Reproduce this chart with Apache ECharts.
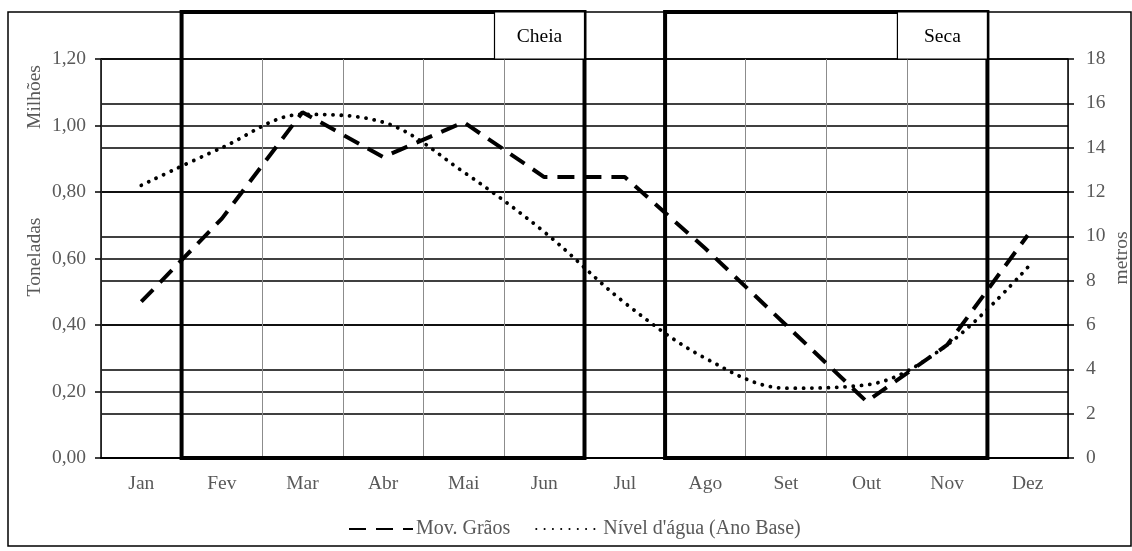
<!DOCTYPE html>
<html><head><meta charset="utf-8">
<script src="https://cdn.jsdelivr.net/npm/echarts@6/dist/echarts.min.js"></script>
<style>html,body{margin:0;padding:0;background:#fff}#c{width:1132px;height:551px}</style>
</head><body><div id="c"></div>
<script>
// ---- data ----
const months = ['Jan','Fev','Mar','Abr','Mai','Jun','Jul','Ago','Set','Out','Nov','Dez'];
const movGraos = [0.47, 0.72, 1.04, 0.905, 1.01, 0.845, 0.845, 0.63, 0.40, 0.17, 0.34, 0.67];
const nivelAgua = [12.3, 14.0, 15.5, 15.15, 12.9, 10.2, 7.0, 4.5, 3.15, 3.3, 5.1, 8.6];
const seriesNames = ['Mov. Grãos', "Nível d'água (Ano Base)"];
const seasons = [
  {name: 'Cheia', from: 'Fev', to: 'Jun'},
  {name: 'Seca', from: 'Ago', to: 'Nov'}
];
const leftAxisNames = ['Milhões', 'Toneladas'];
const rightAxisName = 'metros';

const FONT = 'Liberation Serif';
const GREY = '#595959';
const FS = 19.5;

const chart = echarts.init(document.getElementById('c'), null, {renderer: 'canvas'});
const option = {
  backgroundColor: '#fff',
  animation: false,
  grid: {left: 101, right: 64, top: 59, bottom: 93, containLabel: false},
  legend: {
    top: 514, left: 343, itemGap: 25, itemWidth: 64, itemHeight: 10,
    textStyle: {fontFamily: FONT, fontSize: 20, color: GREY, padding: [0, 0, 0, -2]},
    itemStyle: {opacity: 0},
    data: seriesNames
  },
  xAxis: {
    type: 'category', data: months, boundaryGap: true,
    axisLine: {show: true, lineStyle: {color: '#000', width: 2}},
    axisTick: {show: false},
    axisLabel: {fontFamily: FONT, fontSize: FS, color: GREY, margin: 16},
    splitLine: {show: true, lineStyle: {color: '#8c8c8c', width: 1}}
  },
  yAxis: [
    {
      type: 'value', min: 0, max: 1.2, interval: 0.2, position: 'left',
      axisLine: {show: true, lineStyle: {color: '#000', width: 1.5}},
      axisTick: {show: true, length: 6, lineStyle: {color: '#000', width: 1.5}},
      axisLabel: {fontFamily: FONT, fontSize: FS, color: GREY, margin: 15,
        formatter: v => v.toFixed(2).replace('.', ',')},
      splitLine: {show: true, lineStyle: {color: '#000', width: 1.5}}
    },
    {
      type: 'value', min: 0, max: 18, interval: 2, position: 'right',
      axisLine: {show: true, lineStyle: {color: '#000', width: 1.5}},
      axisTick: {show: true, length: 6, lineStyle: {color: '#000', width: 1.5}},
      axisLabel: {fontFamily: FONT, fontSize: FS, color: GREY, margin: 18},
      splitLine: {show: true, lineStyle: {color: '#000', width: 1.5}}
    }
  ],
  series: [
    {
      name: seriesNames[0], type: 'line', yAxisIndex: 0, data: movGraos,
      symbol: 'none', smooth: false, z: 5,
      lineStyle: {color: '#000', width: 4, type: [17, 10], cap: 'butt'},
      itemStyle: {color: '#000'}
    },
    {
      name: seriesNames[1], type: 'line', yAxisIndex: 1, data: nivelAgua,
      symbol: 'none', smooth: 0.35, z: 5,
      lineStyle: {color: '#000', width: 3.8, type: [0.1, 8.2], cap: 'round'},
      itemStyle: {color: '#000'}
    }
  ]
};
chart.setOption(option);

// ---- annotation boxes positioned through the library's scales ----
const px = c => chart.convertToPixel({xAxisIndex: 0}, c);
const band = px(months[1]) - px(months[0]);
const yTop = chart.convertToPixel({yAxisIndex: 0}, 1.2);
const yBot = chart.convertToPixel({yAxisIndex: 0}, 0);
const frameTop = 12;
const g = [];
// outer frame
g.push({type: 'rect', shape: {x: 8, y: frameTop, width: 1123, height: 534},
  style: {fill: null, stroke: '#000', lineWidth: 1.5}, z: 1});
seasons.forEach(s => {
  const x0 = px(s.from) - band / 2;
  const x1 = px(s.to) + band / 2;
  g.push({type: 'rect', shape: {x: x0, y: frameTop, width: x1 - x0, height: yBot - frameTop},
    style: {fill: null, stroke: '#000', lineWidth: 4}, z: 3});
  const lw = 90;
  g.push({type: 'rect', shape: {x: x1 - lw, y: frameTop, width: lw, height: yTop - frameTop},
    style: {fill: '#fff', stroke: '#000', lineWidth: 1.2}, z: 3});
  g.push({type: 'text', x: x1 - lw / 2, y: (frameTop + yTop) / 2 + 1,
    style: {text: s.name, fontFamily: FONT, fontSize: FS, fill: '#000', align: 'center', verticalAlign: 'middle'}, z: 4});
});
// axis titles
g.push({type: 'text', x: 35, y: 97, rotation: Math.PI / 2,
  style: {text: leftAxisNames[0], fontFamily: FONT, fontSize: FS, fill: GREY, align: 'center', verticalAlign: 'middle'}});
g.push({type: 'text', x: 35, y: 257, rotation: Math.PI / 2,
  style: {text: leftAxisNames[1], fontFamily: FONT, fontSize: FS, fill: GREY, align: 'center', verticalAlign: 'middle'}});
g.push({type: 'text', x: 1122, y: 258, rotation: Math.PI / 2,
  style: {text: rightAxisName, fontFamily: FONT, fontSize: FS, fill: GREY, align: 'center', verticalAlign: 'middle'}});
chart.setOption({graphic: g});
</script>
</body></html>
